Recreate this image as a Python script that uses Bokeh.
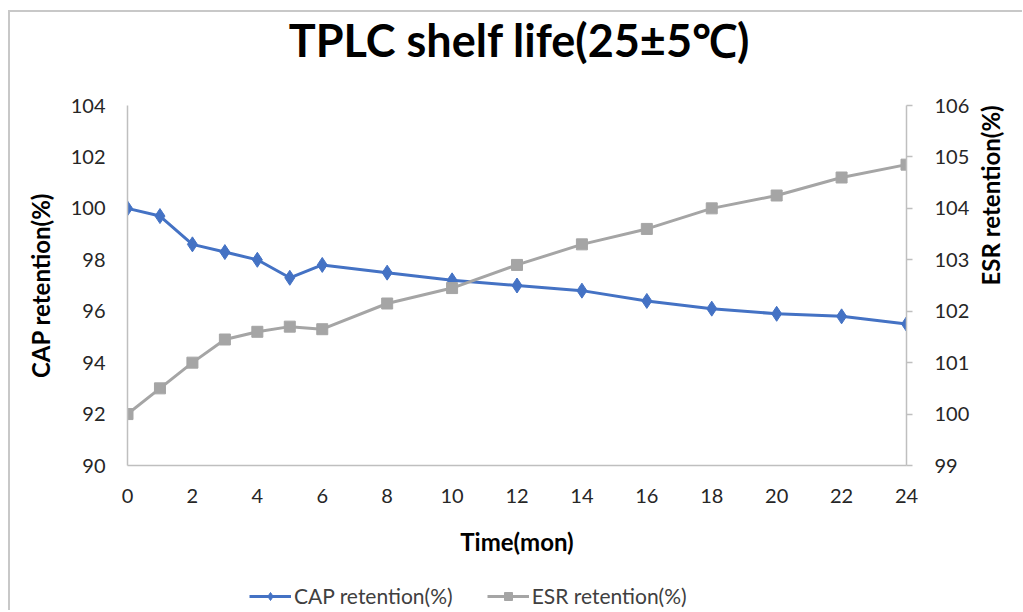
import math
from bokeh.plotting import figure
from bokeh.layouts import column
from bokeh.models import Range1d, LinearAxis, FixedTicker, Legend, LegendItem, Label
from bokeh.embed import file_html
from bokeh.resources import INLINE

# ---- data ----
months = [0, 1, 2, 3, 4, 5, 6, 8, 10, 12, 14, 16, 18, 20, 22, 24]
cap_retention = [100.0, 99.7, 98.6, 98.3, 98.0, 97.3, 97.8, 97.5, 97.2,
                 97.0, 96.8, 96.4, 96.1, 95.9, 95.8, 95.5]
esr_retention = [100.0, 100.5, 101.0, 101.45, 101.6, 101.7, 101.65, 102.15, 102.45,
                 102.9, 103.3, 103.6, 104.0, 104.25, 104.6, 104.85]
x_ticks = [0, 2, 4, 6, 8, 10, 12, 14, 16, 18, 20, 22, 24]
left_ticks = [90, 92, 94, 96, 98, 100, 102, 104]
right_ticks = [99, 100, 101, 102, 103, 104, 105, 106]

title_text = "TPLC shelf life(25±5℃)"
x_label = "Time(mon)"
left_label = "CAP retention(%)"
right_label = "ESR retention(%)"
cap_name = "CAP retention(%)"
esr_name = "ESR retention(%)"

BLUE = "#4472C4"
GRAY = "#A5A5A5"
AXIS = "#BFBFBF"
FONT = "Lato"
W = 1012
LEFT = 117          # frame offset inside the canvas (frames are aligned in the column)

# ---- title strip ----
tf = figure(width=W, height=60, x_range=Range1d(0, 1), y_range=Range1d(0, 1),
            x_axis_type=None, y_axis_type=None,
            output_backend="svg", toolbar_location=None,
            min_border_left=0, min_border_right=0, min_border_top=0, min_border_bottom=0)
tf.outline_line_color = None
tf.xgrid.visible = False
tf.ygrid.visible = False
tf.add_layout(Label(x=W / 2 + 3 - LEFT, y=33, x_units="screen", y_units="screen", text=title_text,
                    text_align="center", text_baseline="middle",
                    text_font=FONT, text_font_size="45px", text_font_style="bold",
                    text_color="#000000"))

# ---- main chart ----
p = figure(width=W, height=488,
           x_range=Range1d(0, 24), y_range=Range1d(90, 104),
           output_backend="svg", toolbar_location=None,
           min_border_left=LEFT, min_border_right=W - LEFT - 782,
           min_border_top=33, min_border_bottom=95)
p.extra_y_ranges = {"esr": Range1d(99, 106)}

p.xgrid.visible = False
p.ygrid.visible = False
p.outline_line_color = None

xa = p.xaxis[0]
xa.ticker = FixedTicker(ticks=x_ticks)
xa.axis_label = x_label
ya = p.yaxis[0]
ya.ticker = FixedTicker(ticks=left_ticks)
ya.axis_label = left_label
ra = LinearAxis(y_range_name="esr", ticker=FixedTicker(ticks=right_ticks), axis_label=right_label)
p.add_layout(ra, "right")

for ax in (xa, ya, ra):
    ax.axis_line_color = AXIS
    ax.axis_line_width = 1.5
    ax.minor_tick_line_color = None
    ax.minor_tick_in = 0
    ax.minor_tick_out = 0
    ax.major_label_text_font = FONT
    ax.major_label_text_font_size = "20px"
    ax.major_label_text_color = "#262626"
    ax.axis_label_text_font = FONT
    ax.axis_label_text_font_size = "24px"
    ax.axis_label_text_font_style = "bold"
    ax.axis_label_text_color = "#000000"

xa.major_tick_line_color = None
xa.major_tick_in = 0
xa.major_tick_out = 0
xa.major_label_standoff = 23
xa.axis_label_standoff = 21
ya.major_tick_line_color = None
ya.major_tick_in = 0
ya.major_tick_out = 0
ya.major_label_standoff = 22
ya.axis_label_standoff = 13
ra.major_tick_line_color = AXIS
ra.major_tick_line_width = 1.5
ra.major_tick_in = 0
ra.major_tick_out = 6
ra.major_label_standoff = 22
ra.axis_label_standoff = 18
ra.axis_label_orientation = math.pi / 2

p.line(months, cap_retention, color=BLUE, line_width=3)
p.scatter(months, cap_retention, marker="diamond", size=15, color=BLUE)
p.line(months, esr_retention, y_range_name="esr", color=GRAY, line_width=3)
p.scatter(months, esr_retention, y_range_name="esr", marker="square", size=11, color=GRAY)

# ---- legend strip ----
lf = figure(width=W, height=50, x_range=Range1d(0, 1), y_range=Range1d(0, 1),
            x_axis_type=None, y_axis_type=None,
            output_backend="svg", toolbar_location=None,
            min_border_left=0, min_border_right=0, min_border_top=0, min_border_bottom=0)
lf.outline_line_color = None
lf.xgrid.visible = False
lf.ygrid.visible = False
# legend-key renderers (kept outside the visible range)
g1 = lf.line([5, 6], [5, 5], color=BLUE, line_width=3)
m1 = lf.scatter([5], [5], marker="diamond", size=15, color=BLUE)
g2 = lf.line([5, 6], [5, 5], color=GRAY, line_width=3)
m2 = lf.scatter([5], [5], marker="square", size=11, color=GRAY)

legend = Legend(items=[LegendItem(label=cap_name, renderers=[g1, m1]),
                       LegendItem(label=esr_name, renderers=[g2, m2])],
                orientation="horizontal", location=(122, 2))
legend.label_text_font = FONT
legend.label_text_font_size = "21px"
legend.label_text_color = "#404040"
legend.glyph_width = 42
legend.spacing = 34
legend.border_line_color = None
legend.background_fill_alpha = 0
legend.padding = 2
legend.margin = 0
legend.label_standoff = 3
lf.add_layout(legend, "center")

layout = column(tf, p, lf, spacing=0)
layout.styles = {"margin-left": "8px", "margin-top": "10px",
                 "border-left": "2px solid #c8c8c8", "border-top": "2px solid #c8c8c8"}

open("out.html", "w").write(file_html(layout, INLINE))
